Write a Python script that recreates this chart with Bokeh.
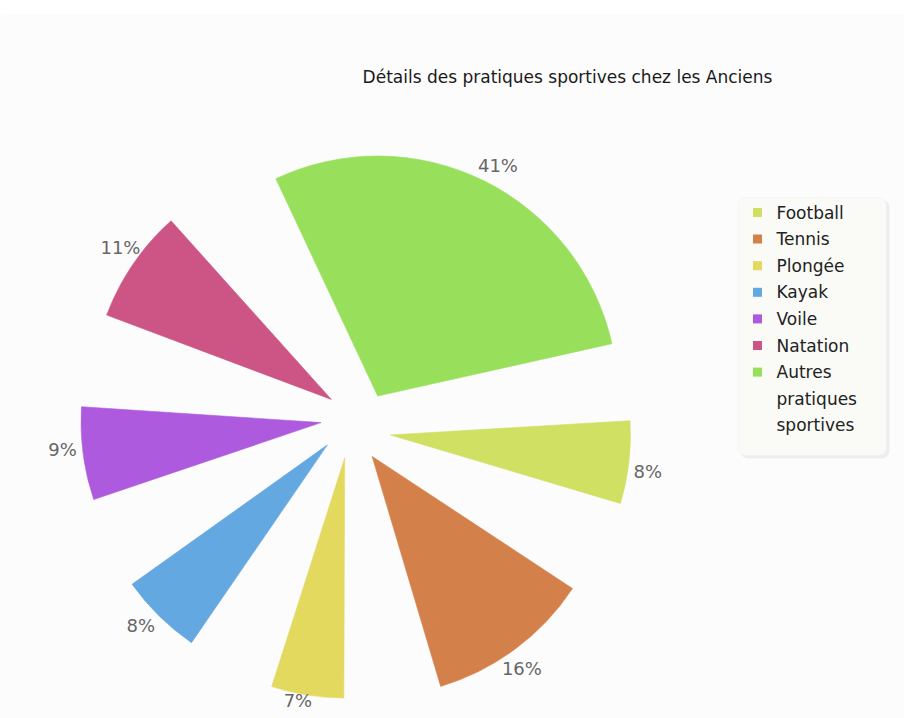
import math
from bokeh.plotting import figure
from bokeh.models import Range1d, Label, BoxAnnotation, ColumnDataSource
from bokeh.core.properties import value
from bokeh.embed import file_html
from bokeh.resources import INLINE

# ---- data ----
categories = ["Football", "Tennis", "Plongée", "Kayak", "Voile", "Natation",
              "Autres pratiques sportives"]
values = [8, 16, 7, 8, 9, 11, 41]
colors = ["#cfe062", "#d4804b", "#e3d95f", "#63a8e0", "#ae5ade", "#cc5585", "#98e05c"]
legend_lines = [["Football"], ["Tennis"], ["Plongée"], ["Kayak"], ["Voile"],
                ["Natation"], ["Autres", "pratiques", "sportives"]]
title_text = "Détails des pratiques sportives chez les Anciens"

# ---- layout (style) ----
TOP = 14
W, H = 904, 718
FW, FH = W, H - TOP
PX0, PY0 = 0, TOP  # page offset of frame


def dx(px):
    return px - PX0


def dy(py):
    return FH - (py - PY0)


CX, CY = dx(356), dy(424)
EXPLODE = 35.5
EXPLODE_ROT = -10.5   # degrees, offset direction relative to slice bisector
RADIUS = 240
LABEL_R = 295
LABEL_ROT = -2.5
LABEL_MIN_Y = dy(700)   # keep labels inside the plot
START = 3.4      # degrees, upper edge of first slice
K = 2.5          # degrees per percent
GAP = 16.8       # degrees between slices

xs, ys, a0s, a1s, lx, ly, ltxt = [], [], [], [], [], [], []
cum = 0.0
for i, v in enumerate(values):
    a1 = START - cum
    a0 = a1 - K * v
    mid = (a0 + a1) / 2
    off = math.radians(mid + EXPLODE_ROT)
    xs.append(CX + EXPLODE * math.cos(off))
    ys.append(CY + EXPLODE * math.sin(off))
    a0s.append(math.radians(a0))
    a1s.append(math.radians(a1))
    la = math.radians(mid + LABEL_ROT)
    lx.append(CX + LABEL_R * math.cos(la))
    ly.append(max(CY + LABEL_R * math.sin(la), LABEL_MIN_Y))
    ltxt.append(f"{v}%")
    cum += K * v + GAP

p = figure(width=W, height=H, output_backend="svg", toolbar_location=None,
           x_range=Range1d(0, FW), y_range=Range1d(0, FH),
           min_border_left=0, min_border_right=0, min_border_bottom=0,
           min_border_top=TOP)
p.axis.visible = False
p.grid.visible = False
p.outline_line_color = None
p.background_fill_color = "#fcfcfc"
p.border_fill_color = "#ffffff"

src = ColumnDataSource(dict(x=xs, y=ys, a0=a0s, a1=a1s, color=colors))
p.wedge(x="x", y="y", radius=RADIUS, start_angle="a0", end_angle="a1",
        direction="anticlock", fill_color="color", line_color="color",
        line_width=1, line_alpha=0.6, source=src)

p.text(x=lx, y=ly, text=ltxt, text_align="center", text_baseline="middle",
       text_font=value("DejaVu Sans"), text_font_size="18px", text_color="#666666")

p.add_layout(Label(x=dx(567), y=dy(76), text=title_text, text_align="center",
                   text_baseline="middle", text_font="DejaVu Sans",
                   text_font_size="17px", text_color="#1a1a1a"))

# legend box
p.add_layout(BoxAnnotation(left=dx(740), right=dx(889), top=dy(199), bottom=dy(458),
                           fill_color="#000000", fill_alpha=0.06, line_color=None,
                           border_radius=8, level="underlay"))
p.add_layout(BoxAnnotation(left=dx(738), right=dx(886), top=dy(197), bottom=dy(455),
                           fill_color="#fafaf7", fill_alpha=1.0, line_color="#ebebeb",
                           border_radius=8, level="underlay"))

ROW0, ROWH = 212, 26.6
mx, my, mc = [], [], []
tx, ty, tt = [], [], []
row = 0
for lines, c in zip(legend_lines, colors):
    mx.append(dx(757))
    my.append(dy(ROW0 + ROWH * row))
    mc.append(c)
    for ln in lines:
        tx.append(dx(776))
        ty.append(dy(ROW0 + ROWH * row))
        tt.append(ln)
        row += 1

p.scatter(x=mx, y=my, marker="square", size=9, fill_color=mc, line_color=None)
p.text(x=tx, y=ty, text=tt, text_align="left", text_baseline="middle",
       text_font=value("DejaVu Sans"), text_font_size="17px", text_color="#222222")

open("out.html", "w").write(file_html(p, INLINE))
